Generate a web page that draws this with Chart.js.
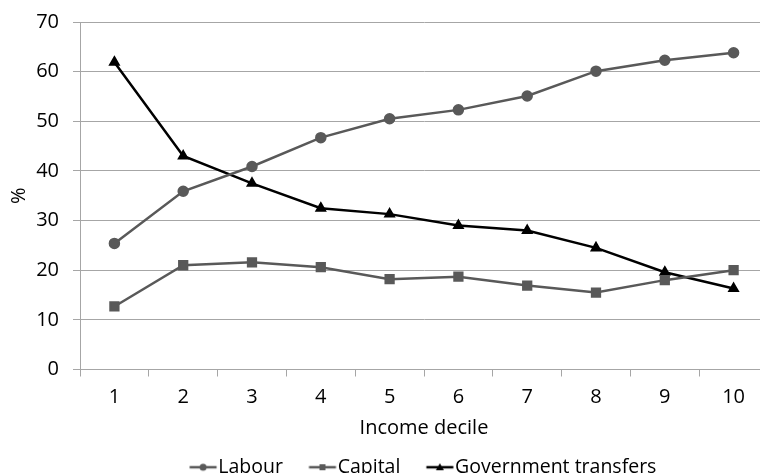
<!DOCTYPE html>
<html>
<head>
<meta charset="utf-8">
<script src="https://cdn.jsdelivr.net/npm/chart.js@4"></script>
<style>
  html, body { margin: 0; padding: 0; background: #fff; overflow: hidden; }
  canvas { display: block; margin-top: -4px; }
</style>
</head>
<body>
<canvas id="chart" width="776" height="491"></canvas>
<script>
// Income deciles
const deciles = ['1', '2', '3', '4', '5', '6', '7', '8', '9', '10'];
// Share of income by source, %
const labour = [25.4, 35.9, 40.9, 46.7, 50.5, 52.3, 55.1, 60.1, 62.3, 63.8];
const capital = [12.7, 21.0, 21.6, 20.6, 18.2, 18.7, 16.9, 15.5, 18.0, 20.0];
const govTransfers = [61.9, 43.0, 37.5, 32.5, 31.3, 29.0, 28.0, 24.5, 19.6, 16.3];
const seriesNames = ['Labour', 'Capital', 'Government transfers'];

const FONT = '"Open Sans", sans-serif';
const FS = 20;
const GREY = '#595959';
const BLACK = '#000000';
const GRID = '#a6a6a6';

// Legend swatch: a short line with the series marker in the middle,
// placed at the right of a wide transparent image so it sits just before the label
function swatch(color, style) {
  const c = document.createElement('canvas');
  c.width = 80; c.height = 12;
  const g = c.getContext('2d');
  g.strokeStyle = color; g.fillStyle = color; g.lineWidth = 2.5;
  g.beginPath(); g.moveTo(38.5, 6); g.lineTo(65.5, 6); g.stroke();
  const cx = 52, cy = 6;
  g.beginPath();
  if (style === 'circle') g.arc(cx, cy, 3.5, 0, Math.PI * 2);
  else if (style === 'rect') g.rect(cx - 3, cy - 3, 6, 6);
  else { g.moveTo(cx, cy - 4); g.lineTo(cx + 4, cy + 3); g.lineTo(cx - 4, cy + 3); g.closePath(); }
  g.fill();
  return c;
}

const styles = ['circle', 'rect', 'triangle'];
const colors = [GREY, GREY, BLACK];

// The swatch images leave empty room on the left of the first entry;
// move the legend box left a little so the visible row is centred under the plot.
const legendNudge = {
  id: 'legendNudge',
  afterLayout(chart) {
    const lg = chart.legend;
    if (lg) { lg.left -= 9; lg.right -= 9; }
  }
};

new Chart(document.getElementById('chart'), {
  type: 'line',
  data: {
    labels: deciles,
    datasets: [
      { label: seriesNames[0], data: labour, borderColor: GREY, backgroundColor: GREY,
        pointStyle: 'circle', pointRadius: 4.5, borderWidth: 2.5 },
      { label: seriesNames[1], data: capital, borderColor: GREY, backgroundColor: GREY,
        pointStyle: 'rect', pointRadius: 5.5, borderWidth: 2.5 },
      { label: seriesNames[2], data: govTransfers, borderColor: BLACK, backgroundColor: BLACK,
        pointStyle: 'triangle', pointRadius: 4.5, borderWidth: 2.5 }
    ]
  },
  plugins: [legendNudge],
  options: {
    responsive: false,
    animation: false,
    layout: { padding: { top: 7, right: 0, bottom: 0, left: 0 } },
    elements: { line: { tension: 0 }, point: { borderWidth: 0 } },
    plugins: {
      tooltip: { enabled: false },
      legend: {
        position: 'bottom',
        fullSize: false,
        labels: {
          color: '#000',
          font: { family: FONT, size: 19.5 },
          usePointStyle: true,
          pointStyleWidth: 35,
          boxHeight: 12,
          padding: 10,
          generateLabels: (chart) => chart.data.datasets.map((ds, i) => ({
            text: ds.label,
            datasetIndex: i,
            pointStyle: swatch(colors[i], styles[i]),
            fillStyle: colors[i],
            strokeStyle: colors[i],
            lineWidth: 0,
            hidden: false
          }))
        }
      }
    },
    scales: {
      x: {
        offset: true,
        grid: { display: true, drawOnChartArea: false, offset: true, color: GRID, tickLength: 7 },
        border: { color: GRID },
        ticks: { color: '#000', font: { family: FONT, size: FS }, padding: 9 },
        title: { display: true, text: 'Income decile', color: '#000', font: { family: FONT, size: FS }, padding: { top: -2, bottom: 7 } }
      },
      y: {
        min: 0, max: 70,
        ticks: { stepSize: 10, color: '#000', font: { family: FONT, size: FS }, padding: 14 },
        grid: { color: GRID, tickLength: 7, drawTicks: true },
        border: { color: GRID },
        title: { display: true, text: '%', color: '#000', font: { family: FONT, size: FS }, padding: { top: 7, bottom: 0 } },
        afterFit: (s) => { s.width = 80; }
      }
    }
  }
});
</script>
</body>
</html>
